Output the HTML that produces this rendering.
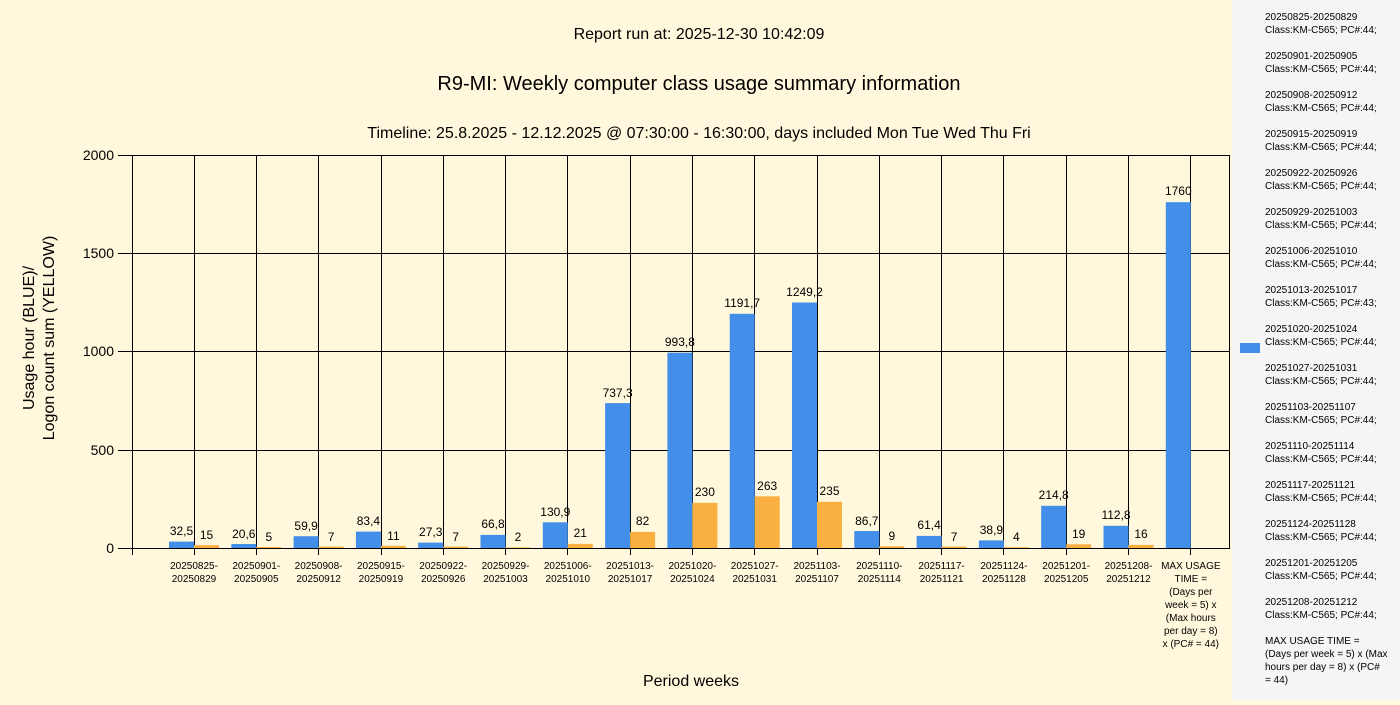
<!DOCTYPE html>
<html><head><meta charset="utf-8"><style>
body{margin:0;width:1400px;height:700px;overflow:hidden;background:#fff8dc;font-family:"Liberation Sans",sans-serif}
</style></head><body>
<svg width="1400" height="700" xmlns="http://www.w3.org/2000/svg" font-family="Liberation Sans, sans-serif">
<rect width="1400" height="700" fill="#fff8dc"/>
<rect x="1232" y="0" width="168" height="700" fill="#f5f5f5"/>
<text x="699" y="39" font-size="16" text-anchor="middle" fill="#000">Report run at: 2025-12-30 10:42:09</text>
<text x="699" y="90" font-size="20" text-anchor="middle" fill="#000">R9-MI: Weekly computer class usage summary information</text>
<text x="699" y="138" font-size="16" text-anchor="middle" fill="#000">Timeline:  25.8.2025  - 12.12.2025  @  07:30:00 -  16:30:00, days included Mon Tue Wed Thu Fri</text>
<text x="691" y="686" font-size="16" text-anchor="middle">Period weeks</text>
<text transform="translate(34,338) rotate(-90)" font-size="16" text-anchor="middle">Usage hour (BLUE)/</text>
<text transform="translate(54,338) rotate(-90)" font-size="16" text-anchor="middle">Logon count sum (YELLOW)</text>
<g stroke="#000" stroke-width="1">
<line x1="118" y1="155.5" x2="1230" y2="155.5"/>
<line x1="118" y1="253.5" x2="1230" y2="253.5"/>
<line x1="118" y1="351.5" x2="1230" y2="351.5"/>
<line x1="118" y1="450.5" x2="1230" y2="450.5"/>
<line x1="118" y1="548.5" x2="1230" y2="548.5"/>
<line x1="132.5" y1="155" x2="132.5" y2="555"/>
<line x1="1229.5" y1="155" x2="1229.5" y2="548"/>
<line x1="194.5" y1="155" x2="194.5" y2="555"/><line x1="256.5" y1="155" x2="256.5" y2="555"/><line x1="318.5" y1="155" x2="318.5" y2="555"/><line x1="381.5" y1="155" x2="381.5" y2="555"/><line x1="443.5" y1="155" x2="443.5" y2="555"/><line x1="505.5" y1="155" x2="505.5" y2="555"/><line x1="567.5" y1="155" x2="567.5" y2="555"/><line x1="630.5" y1="155" x2="630.5" y2="555"/><line x1="692.5" y1="155" x2="692.5" y2="555"/><line x1="754.5" y1="155" x2="754.5" y2="555"/><line x1="817.5" y1="155" x2="817.5" y2="555"/><line x1="879.5" y1="155" x2="879.5" y2="555"/><line x1="941.5" y1="155" x2="941.5" y2="555"/><line x1="1003.5" y1="155" x2="1003.5" y2="555"/><line x1="1066.5" y1="155" x2="1066.5" y2="555"/><line x1="1128.5" y1="155" x2="1128.5" y2="555"/><line x1="1190.5" y1="155" x2="1190.5" y2="555"/>
</g>
<g font-size="14" text-anchor="end">
<text x="114" y="160">2000</text><text x="114" y="258">1500</text><text x="114" y="356">1000</text><text x="114" y="455">500</text><text x="114" y="553">0</text>
</g>
<g font-size="12" text-anchor="middle" fill="#000">
<g transform="translate(194,0)"><rect x="-25" y="541.6" width="25" height="6.4" fill="#428ee8"/><rect x="0" y="545.1" width="25" height="2.9" fill="#f9b040"/><text x="-12.5" y="535">32,5</text><text x="12.5" y="539">15</text></g>
<g transform="translate(256.3,0)"><rect x="-25" y="544" width="25" height="4" fill="#428ee8"/><rect x="0" y="547" width="25" height="1" fill="#f9b040"/><text x="-12.5" y="538">20,6</text><text x="12.5" y="541">5</text></g>
<g transform="translate(318.6,0)"><rect x="-25" y="536.2" width="25" height="11.8" fill="#428ee8"/><rect x="0" y="546.6" width="25" height="1.4" fill="#f9b040"/><text x="-12.5" y="530">59,9</text><text x="12.5" y="541">7</text></g>
<g transform="translate(380.9,0)"><rect x="-25" y="531.6" width="25" height="16.4" fill="#428ee8"/><rect x="0" y="545.8" width="25" height="2.2" fill="#f9b040"/><text x="-12.5" y="525">83,4</text><text x="12.5" y="540">11</text></g>
<g transform="translate(443.2,0)"><rect x="-25" y="542.6" width="25" height="5.4" fill="#428ee8"/><rect x="0" y="546.6" width="25" height="1.4" fill="#f9b040"/><text x="-12.5" y="536">27,3</text><text x="12.5" y="541">7</text></g>
<g transform="translate(505.5,0)"><rect x="-25" y="534.9" width="25" height="13.1" fill="#428ee8"/><rect x="0" y="547.4" width="25" height="0.6" fill="#f9b040"/><text x="-12.5" y="528">66,8</text><text x="12.5" y="541">2</text></g>
<g transform="translate(567.8,0)"><rect x="-25" y="522.3" width="25" height="25.7" fill="#428ee8"/><rect x="0" y="543.9" width="25" height="4.1" fill="#f9b040"/><text x="-12.5" y="516">130,9</text><text x="12.5" y="537">21</text></g>
<g transform="translate(630.1,0)"><rect x="-25" y="403.1" width="25" height="144.9" fill="#428ee8"/><rect x="0" y="531.9" width="25" height="16.1" fill="#f9b040"/><text x="-12.5" y="397">737,3</text><text x="12.5" y="525">82</text></g>
<g transform="translate(692.4,0)"><rect x="-25" y="352.7" width="25" height="195.3" fill="#428ee8"/><rect x="0" y="502.8" width="25" height="45.2" fill="#f9b040"/><text x="-12.5" y="346">993,8</text><text x="12.5" y="496">230</text></g>
<g transform="translate(754.7,0)"><rect x="-25" y="313.8" width="25" height="234.2" fill="#428ee8"/><rect x="0" y="496.3" width="25" height="51.7" fill="#f9b040"/><text x="-12.5" y="307">1191,7</text><text x="12.5" y="490">263</text></g>
<g transform="translate(817,0)"><rect x="-25" y="302.5" width="25" height="245.5" fill="#428ee8"/><rect x="0" y="501.8" width="25" height="46.2" fill="#f9b040"/><text x="-12.5" y="296">1249,2</text><text x="12.5" y="495">235</text></g>
<g transform="translate(879.3,0)"><rect x="-25" y="531" width="25" height="17" fill="#428ee8"/><rect x="0" y="546.2" width="25" height="1.8" fill="#f9b040"/><text x="-12.5" y="525">86,7</text><text x="12.5" y="540">9</text></g>
<g transform="translate(941.6,0)"><rect x="-25" y="535.9" width="25" height="12.1" fill="#428ee8"/><rect x="0" y="546.6" width="25" height="1.4" fill="#f9b040"/><text x="-12.5" y="529">61,4</text><text x="12.5" y="541">7</text></g>
<g transform="translate(1003.9,0)"><rect x="-25" y="540.4" width="25" height="7.6" fill="#428ee8"/><rect x="0" y="547.2" width="25" height="0.8" fill="#f9b040"/><text x="-12.5" y="534">38,9</text><text x="12.5" y="541">4</text></g>
<g transform="translate(1066.2,0)"><rect x="-25" y="505.8" width="25" height="42.2" fill="#428ee8"/><rect x="0" y="544.3" width="25" height="3.7" fill="#f9b040"/><text x="-12.5" y="499">214,8</text><text x="12.5" y="538">19</text></g>
<g transform="translate(1128.5,0)"><rect x="-25" y="525.8" width="25" height="22.2" fill="#428ee8"/><rect x="0" y="544.9" width="25" height="3.1" fill="#f9b040"/><text x="-12.5" y="519">112,8</text><text x="12.5" y="538">16</text></g>
<g transform="translate(1190.8,0)"><rect x="-25" y="202.2" width="25" height="345.8" fill="#428ee8"/><text x="-12.5" y="195">1760</text></g>
</g>
<g font-size="10" text-anchor="middle" fill="#000">
<text x="194" y="569">20250825-</text><text x="194" y="582">20250829</text>
<text x="256.3" y="569">20250901-</text><text x="256.3" y="582">20250905</text>
<text x="318.6" y="569">20250908-</text><text x="318.6" y="582">20250912</text>
<text x="380.9" y="569">20250915-</text><text x="380.9" y="582">20250919</text>
<text x="443.2" y="569">20250922-</text><text x="443.2" y="582">20250926</text>
<text x="505.5" y="569">20250929-</text><text x="505.5" y="582">20251003</text>
<text x="567.8" y="569">20251006-</text><text x="567.8" y="582">20251010</text>
<text x="630.1" y="569">20251013-</text><text x="630.1" y="582">20251017</text>
<text x="692.4" y="569">20251020-</text><text x="692.4" y="582">20251024</text>
<text x="754.7" y="569">20251027-</text><text x="754.7" y="582">20251031</text>
<text x="817" y="569">20251103-</text><text x="817" y="582">20251107</text>
<text x="879.3" y="569">20251110-</text><text x="879.3" y="582">20251114</text>
<text x="941.6" y="569">20251117-</text><text x="941.6" y="582">20251121</text>
<text x="1003.9" y="569">20251124-</text><text x="1003.9" y="582">20251128</text>
<text x="1066.2" y="569">20251201-</text><text x="1066.2" y="582">20251205</text>
<text x="1128.5" y="569">20251208-</text><text x="1128.5" y="582">20251212</text>
<text x="1190.8" y="569">MAX USAGE</text><text x="1190.8" y="582">TIME =</text><text x="1190.8" y="595">(Days per</text><text x="1190.8" y="608">week = 5) x</text><text x="1190.8" y="621">(Max hours</text><text x="1190.8" y="634">per day = 8)</text><text x="1190.8" y="647">x (PC# = 44)</text>
</g>
<rect x="1240" y="343" width="20" height="10" fill="#428ee8"/>
<g font-size="10" fill="#000">
<text x="1265" y="20">20250825-20250829</text><text x="1265" y="33">Class:KM-C565; PC#:44;</text>
<text x="1265" y="59">20250901-20250905</text><text x="1265" y="72">Class:KM-C565; PC#:44;</text>
<text x="1265" y="98">20250908-20250912</text><text x="1265" y="111">Class:KM-C565; PC#:44;</text>
<text x="1265" y="137">20250915-20250919</text><text x="1265" y="150">Class:KM-C565; PC#:44;</text>
<text x="1265" y="176">20250922-20250926</text><text x="1265" y="189">Class:KM-C565; PC#:44;</text>
<text x="1265" y="215">20250929-20251003</text><text x="1265" y="228">Class:KM-C565; PC#:44;</text>
<text x="1265" y="254">20251006-20251010</text><text x="1265" y="267">Class:KM-C565; PC#:44;</text>
<text x="1265" y="293">20251013-20251017</text><text x="1265" y="306">Class:KM-C565; PC#:43;</text>
<text x="1265" y="332">20251020-20251024</text><text x="1265" y="345">Class:KM-C565; PC#:44;</text>
<text x="1265" y="371">20251027-20251031</text><text x="1265" y="384">Class:KM-C565; PC#:44;</text>
<text x="1265" y="410">20251103-20251107</text><text x="1265" y="423">Class:KM-C565; PC#:44;</text>
<text x="1265" y="449">20251110-20251114</text><text x="1265" y="462">Class:KM-C565; PC#:44;</text>
<text x="1265" y="488">20251117-20251121</text><text x="1265" y="501">Class:KM-C565; PC#:44;</text>
<text x="1265" y="527">20251124-20251128</text><text x="1265" y="540">Class:KM-C565; PC#:44;</text>
<text x="1265" y="566">20251201-20251205</text><text x="1265" y="579">Class:KM-C565; PC#:44;</text>
<text x="1265" y="605">20251208-20251212</text><text x="1265" y="618">Class:KM-C565; PC#:44;</text>
<text x="1265" y="644">MAX USAGE TIME =</text><text x="1265" y="657"> (Days per week = 5) x (Max</text><text x="1265" y="670">hours per day = 8) x (PC#</text><text x="1265" y="683">= 44)</text>
</g>
</svg>
</body></html>
